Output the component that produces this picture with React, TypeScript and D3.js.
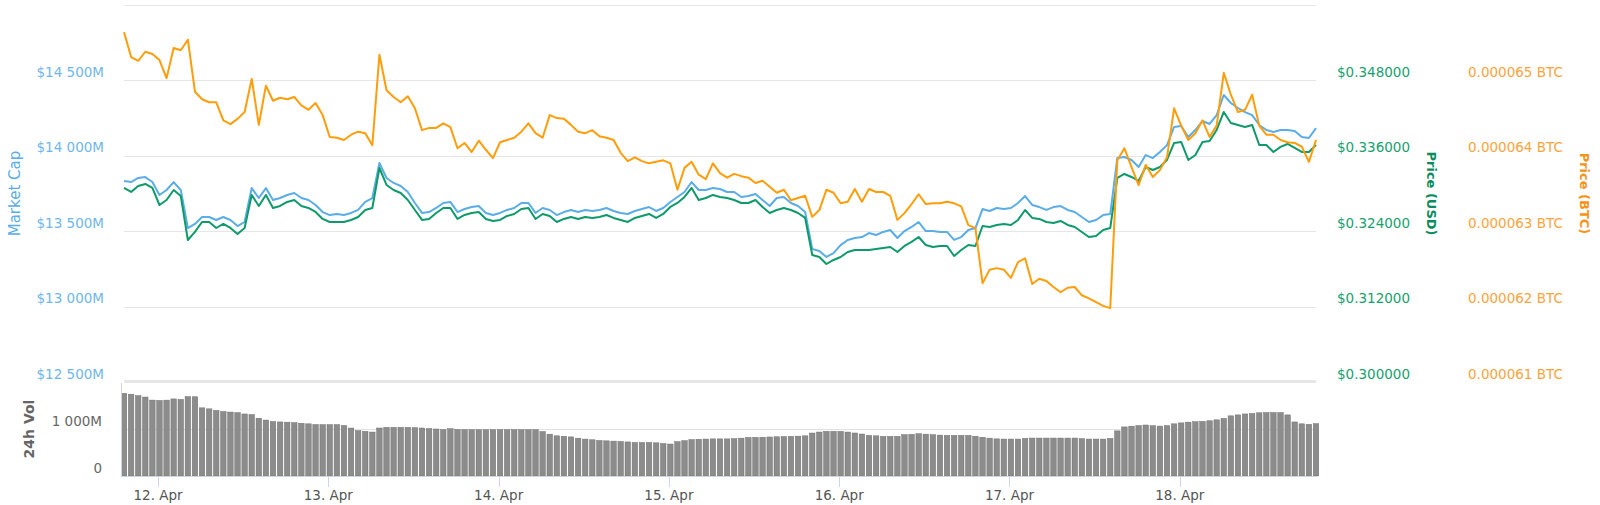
import React from 'react';
import * as d3 from 'd3';

// Hourly samples from 11 Apr 19:12 to 18 Apr 19:12
const START = new Date(2019, 3, 11, 19, 12);
const HOUR = 3600 * 1000;

// Market cap, millions USD
const marketCap = [
  13833, 13826, 13853, 13859, 13826, 13740, 13773, 13826, 13773, 13521,
  13548, 13594, 13594, 13574, 13594, 13574, 13534, 13561, 13786, 13720,
  13786, 13707, 13720, 13740, 13753, 13720, 13707, 13674, 13627, 13607,
  13614, 13607, 13621, 13641, 13694, 13720, 13952, 13853, 13820, 13800,
  13760, 13687, 13621, 13627, 13654, 13687, 13694, 13627, 13647, 13660,
  13667, 13621, 13607, 13621, 13641, 13654, 13687, 13687, 13621, 13654,
  13641, 13607, 13627, 13641, 13627, 13641, 13634, 13641, 13654, 13634,
  13621, 13614, 13634, 13647, 13660, 13634, 13654, 13694, 13727, 13760,
  13826, 13773, 13773, 13786, 13780, 13760, 13760, 13727, 13733, 13747,
  13707, 13667, 13720, 13727, 13687, 13667, 13627, 13382, 13369, 13329,
  13355, 13408, 13442, 13455, 13461, 13488, 13475, 13495, 13508, 13455,
  13501, 13528, 13561, 13501, 13501, 13495, 13495, 13442, 13461, 13508,
  13521, 13647, 13634, 13654, 13647, 13654, 13687, 13733, 13674, 13660,
  13641, 13660, 13667, 13641, 13627, 13594, 13561, 13574, 13607, 13614,
  13985, 13992, 13972, 13926, 14005, 13985, 14025, 14071, 14191, 14198,
  14125, 14171, 14231, 14211, 14270, 14403, 14350, 14317, 14290, 14270,
  14204, 14171, 14158, 14171, 14171, 14164, 14125, 14118, 14184,
];

// Price in USD
const priceUsd = [
  0.33088, 0.33024, 0.3312, 0.33152, 0.33088, 0.32817, 0.32897, 0.33056, 0.32961, 0.3226,
  0.32388, 0.32547, 0.32547, 0.32451, 0.32515, 0.32451, 0.32356, 0.32451, 0.32977, 0.32802,
  0.32977, 0.3277, 0.32802, 0.32865, 0.32897, 0.32802, 0.3277, 0.32706, 0.32595, 0.32547,
  0.32547, 0.32547, 0.32579, 0.32626, 0.32738, 0.3277, 0.33406, 0.33136, 0.33056, 0.33008,
  0.32897, 0.32738, 0.32579, 0.32595, 0.3269, 0.3277, 0.3277, 0.32595, 0.32658, 0.3269,
  0.32706, 0.32595, 0.32563, 0.32579, 0.32642, 0.32674, 0.32754, 0.3277, 0.32595, 0.32674,
  0.32642, 0.32547, 0.32595, 0.32626, 0.32595, 0.32626, 0.32611, 0.32626, 0.32658, 0.32611,
  0.32579, 0.32547, 0.32611, 0.32642, 0.32674, 0.32611, 0.32674, 0.32786, 0.32849, 0.32945,
  0.33088, 0.32897, 0.32929, 0.32977, 0.32945, 0.32929, 0.32897, 0.32849, 0.32849, 0.32897,
  0.32786, 0.3269, 0.32738, 0.3277, 0.32738, 0.3269, 0.32611, 0.32022, 0.3199, 0.31878,
  0.31942, 0.3199, 0.32069, 0.32101, 0.32101, 0.32101, 0.32117, 0.32133, 0.32149, 0.32069,
  0.32165, 0.32229, 0.32308, 0.32181, 0.32149, 0.32165, 0.32165, 0.32006, 0.32101, 0.32181,
  0.32165, 0.32483, 0.32467, 0.32499, 0.32515, 0.32499, 0.32579, 0.32738, 0.32611, 0.32595,
  0.32547, 0.32531, 0.32563, 0.32499, 0.32467, 0.32388, 0.32308, 0.32324, 0.3242, 0.32451,
  0.33247, 0.33311, 0.33263, 0.33199, 0.33422, 0.33374, 0.33422, 0.33534, 0.33804, 0.3382,
  0.33534, 0.33613, 0.3382, 0.33836, 0.34011, 0.34298, 0.34122, 0.34091, 0.34059, 0.34091,
  0.33772, 0.33772, 0.33661, 0.33741, 0.33788, 0.33725, 0.33661, 0.33661, 0.33772,
];

// Price in BTC, satoshi (1e-8 BTC)
const priceBtcSat = [
  6564, 6531, 6526, 6538, 6535, 6527, 6503, 6543, 6540, 6554,
  6485, 6475, 6471, 6471, 6447, 6442, 6449, 6458, 6502, 6441,
  6493, 6473, 6477, 6475, 6478, 6467, 6461, 6470, 6454, 6425,
  6424, 6421, 6428, 6432, 6430, 6414, 6534, 6487, 6478, 6471,
  6479, 6463, 6434, 6437, 6437, 6443, 6438, 6410, 6417, 6405,
  6420, 6408, 6397, 6418, 6421, 6424, 6432, 6443, 6430, 6424,
  6454, 6450, 6449, 6441, 6432, 6430, 6434, 6426, 6424, 6421,
  6404, 6393, 6398, 6393, 6390, 6392, 6394, 6390, 6355, 6384,
  6392, 6375, 6369, 6390, 6377, 6371, 6376, 6373, 6371, 6364,
  6367, 6359, 6351, 6355, 6341, 6344, 6347, 6319, 6328, 6355,
  6351, 6337, 6339, 6356, 6339, 6356, 6352, 6352, 6347, 6315,
  6324, 6336, 6349, 6336, 6337, 6337, 6339, 6337, 6333, 6308,
  6304, 6231, 6249, 6251, 6249, 6238, 6259, 6264, 6230, 6237,
  6234, 6226, 6219, 6225, 6226, 6215, 6211, 6206, 6201, 6198,
  6394, 6410, 6385, 6361, 6388, 6372, 6381, 6398, 6463, 6440,
  6421, 6430, 6447, 6425, 6440, 6510, 6481, 6458, 6461, 6481,
  6440, 6428, 6428, 6421, 6418, 6417, 6412, 6392, 6421,
];

// 24h volume, millions USD
const volume = [
  1760, 1740, 1710, 1680, 1615, 1607, 1614, 1640, 1629, 1690,
  1686, 1450, 1429, 1395, 1370, 1360, 1348, 1320, 1307, 1230,
  1190, 1160, 1150, 1145, 1135, 1122, 1110, 1095, 1093, 1093,
  1093, 1075, 1020, 965, 950, 935, 1021, 1036, 1036, 1036,
  1036, 1028, 1021, 1010, 1000, 986, 1007, 990, 986, 986,
  986, 986, 986, 986, 986, 986, 986, 986, 986, 945,
  890, 855, 845, 832, 805, 785, 771, 755, 748, 742,
  735, 725, 714, 714, 714, 706, 690, 680, 730, 752,
  775, 781, 786, 790, 790, 790, 795, 805, 820, 822,
  825, 830, 835, 840, 843, 848, 855, 914, 935, 950,
  950, 950, 935, 915, 893, 864, 855, 843, 843, 843,
  879, 885, 900, 890, 879, 870, 864, 864, 864, 864,
  845, 825, 805, 790, 786, 786, 786, 800, 807, 807,
  807, 807, 807, 807, 807, 795, 786, 786, 785, 800,
  960, 1044, 1060, 1073, 1085, 1070, 1062, 1073, 1110, 1130,
  1146, 1155, 1161, 1175, 1195, 1225, 1280, 1300, 1320, 1330,
  1345, 1350, 1350, 1350, 1300, 1150, 1110, 1100, 1115,
];

const mcapTicks = [12500, 13000, 13500, 14000, 14500];
const mcapGrid = [12500, 13000, 13500, 14000, 14500, 15000];
const usdTicks = [0.3, 0.312, 0.324, 0.336, 0.348];
const btcTicks = [6100, 6200, 6300, 6400, 6500];
const volTicks = [0, 1000];

const FONT = '"DejaVu Sans", sans-serif';
const BLUE = '#5aade6';
const GREEN = '#0f9a6a';
const ORANGE = '#ff9d0a';

export default function App() {
  const n = Math.min(marketCap.length, priceUsd.length, priceBtcSat.length, volume.length);
  const times = d3.range(n).map((i) => new Date(START.getTime() + i * HOUR));

  const left = 124;
  const right = 1316;
  const top = 5;
  const mainBottom = 382;
  const volTop = 382;
  const volBottom = 476;

  const x = d3.scaleTime().domain([times[0], times[n - 1]]).range([left, right]);
  const yMcap = d3.scaleLinear().domain([12500, 15000]).range([mainBottom, top]);
  const yUsd = d3.scaleLinear().domain([0.3, 0.36]).range([mainBottom, top]);
  const yBtc = d3.scaleLinear().domain([6100, 6600]).range([mainBottom, top]);
  const yVol = d3.scaleLinear().domain([0, 2000]).range([volBottom, volTop]);

  const idx = d3.range(n);
  const lineMcap = d3.line<number>().x((i) => x(times[i])).y((i) => yMcap(marketCap[i]));
  const lineUsd = d3.line<number>().x((i) => x(times[i])).y((i) => yUsd(priceUsd[i]));
  const lineBtc = d3.line<number>().x((i) => x(times[i])).y((i) => yBtc(priceBtcSat[i]));

  const dayTicks = d3.timeDay.range(d3.timeDay.ceil(times[0]), times[n - 1]);
  const fmtDay = d3.timeFormat('%-d. %b');
  const fmtM = (v: number) => '$' + d3.format(',')(v).replace(/,/g, ' ') + 'M';
  const fmtVol = (v: number) => (v === 0 ? '0' : d3.format(',')(v).replace(/,/g, ' ') + 'M');

  const step = x(times[1]) - x(times[0]);
  const barW = step - 1.6;

  return (
    <svg
      width={1600}
      height={505}
      style={{ position: 'absolute', left: 0, top: 0, background: '#fff' }}
      fontFamily={FONT}
    >
      <rect x={0} y={0} width={1600} height={505} fill="#fff" />
      {/* main grid */}
      {mcapGrid.map((v) => (
        <line
          key={'g' + v}
          x1={left}
          x2={right}
          y1={Math.round(yMcap(v)) + 0.5}
          y2={Math.round(yMcap(v)) + 0.5}
          stroke="#e6e6e6"
          strokeWidth={1}
        />
      ))}
      {/* pane separator */}
      <rect x={left} y={380} width={right - left} height={3} fill="#e6e6e6" />

      {/* volume grid */}
      <line x1={left} x2={right} y1={yVol(1000) + 0.5} y2={yVol(1000) + 0.5} stroke="#e0e0e0" />

      {/* volume bars */}
      {idx.map((i) => (
        <rect
          key={'v' + i}
          x={x(times[i]) - barW / 2}
          y={yVol(volume[i])}
          width={barW}
          height={volBottom - yVol(volume[i])}
          fill="#8c8c8c"
          stroke="#707070"
          strokeWidth={0.5}
        />
      ))}

      {/* volume axis lines */}
      <line x1={121.5} x2={121.5} y1={383} y2={volBottom} stroke="#ccd6eb" />
      <line x1={121} x2={right} y1={volBottom + 0.5} y2={volBottom + 0.5} stroke="#ccd6eb" />
      {dayTicks.map((d) => (
        <line
          key={'t' + d.getTime()}
          x1={Math.round(x(d)) + 0.5}
          x2={Math.round(x(d)) + 0.5}
          y1={volBottom}
          y2={volBottom + 11}
          stroke="#ccd6eb"
        />
      ))}

      {/* lines */}
      <path d={lineMcap(idx) || ''} fill="none" stroke={BLUE} strokeWidth={2} strokeLinejoin="round" />
      <path d={lineUsd(idx) || ''} fill="none" stroke={GREEN} strokeWidth={2} strokeLinejoin="round" />
      <path d={lineBtc(idx) || ''} fill="none" stroke={ORANGE} strokeWidth={2} strokeLinejoin="round" />

      {/* left axis labels */}
      {mcapTicks.map((v) => (
        <text key={'lm' + v} x={104} y={yMcap(v) - 3.5} textAnchor="end" fontSize={13.5} fill="#6fb6ec">
          {fmtM(v)}
        </text>
      ))}
      <text
        transform={`translate(20, ${(top + mainBottom) / 2}) rotate(-90)`}
        textAnchor="middle"
        fontSize={15}
        fill="#5aade6"
      >
        Market Cap
      </text>

      {/* volume labels */}
      {volTicks.map((v) => (
        <text key={'lv' + v} x={102} y={yVol(v) - 3} textAnchor="end" fontSize={13.5} fill="#666">
          {fmtVol(v)}
        </text>
      ))}
      <text
        transform={`translate(34, ${(volTop + volBottom) / 2}) rotate(-90)`}
        textAnchor="middle"
        fontSize={14}
        fontWeight="bold"
        fill="#666"
      >
        24h Vol
      </text>

      {/* right USD axis */}
      {usdTicks.map((v) => (
        <text key={'ru' + v} x={1337} y={yUsd(v) - 3.5} textAnchor="start" fontSize={13.5} fill="#17a06f">
          {'$' + v.toFixed(6)}
        </text>
      ))}
      <text
        transform={`translate(1427, ${(top + mainBottom) / 2}) rotate(90)`}
        textAnchor="middle"
        fontSize={13}
        fontWeight="bold"
        fill="#0a8c5f"
      >
        Price (USD)
      </text>

      {/* right BTC axis */}
      {btcTicks.map((v) => (
        <text key={'rb' + v} x={1468} y={yBtc(v) - 3.5} textAnchor="start" fontSize={13.5} fill="#f9a43c">
          {(v / 1e8).toFixed(6) + ' BTC'}
        </text>
      ))}
      <text
        transform={`translate(1580, ${(top + mainBottom) / 2}) rotate(90)`}
        textAnchor="middle"
        fontSize={13}
        fontWeight="bold"
        fill="#f7931a"
      >
        Price (BTC)
      </text>

      {/* x axis labels */}
      {dayTicks.map((d) => (
        <text key={'xl' + d.getTime()} x={x(d)} y={500} textAnchor="middle" fontSize={13.5} fill="#555">
          {fmtDay(d)}
        </text>
      ))}
    </svg>
  );
}
